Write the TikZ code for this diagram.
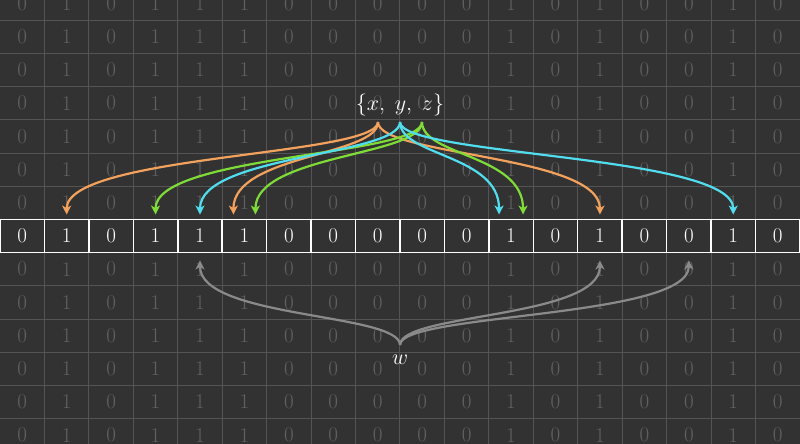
\RequirePackage{fix-cm}
\documentclass[tikz,border=0pt]{standalone}
\usetikzlibrary{arrows.meta}
\definecolor{bg}{HTML}{323232}
\definecolor{gridline}{HTML}{545454}
\definecolor{faint}{HTML}{616161}
\definecolor{hashx}{HTML}{F2A25C}
\definecolor{hashy}{HTML}{52DDEE}
\definecolor{hashz}{HTML}{7EDB38}
\definecolor{query}{HTML}{8A8A8A}
\begin{document}
\begin{tikzpicture}[x=1pt,y=1pt,
    bitcell/.style={minimum width=44.44pt,minimum height=33.4pt,inner sep=0pt,font=\fontsize{21}{21}\selectfont},
    hash/.style={line width=2.2pt,-{Stealth[length=9pt,width=9pt,inset=2.5pt]}},
    label/.style={text=white,font=\fontsize{22}{22}\selectfont}]
  \fill[bg] (0,0) rectangle (800,444);
  \useasboundingbox (0,0) rectangle (800,444);
  \foreach \i in {1,...,17} \draw[gridline,line width=1pt] (44.44*\i,0) -- (44.44*\i,444);
  \foreach \r in {-6,...,7} \draw[gridline,line width=1pt] (0,191.3+33.2*\r) -- (800,191.3+33.2*\r);
  \foreach \r in {-6,...,-1,1,2,...,7}
    \foreach \b [count=\i from 0] in {0,1,0,1,1,1,0,0,0,0,0,1,0,1,0,0,1,0}
      \node[bitcell,text=faint] at (22.22+44.44*\i,208+33.2*\r) {\b};
  \foreach \b [count=\i from 0] in {0,1,0,1,1,1,0,0,0,0,0,1,0,1,0,0,1,0}
    \node[bitcell,draw=white,fill=bg,line width=1.5pt,text=white] (b\i) at (22.22+44.44*\i,208) {\b};
  \node[label] (xyz) at (400,339) {$\{x,\;y,\;z\}$};
  \node[label] (w) at (400,84) {$w$};
  \coordinate (hx) at (378,322);
  \coordinate (hy) at (400,322);
  \coordinate (hz) at (422,322);
  \coordinate (wc) at (400,99);
  \draw[hash,query] (wc) .. controls +(0,32) and +(0,-58) .. ([yshift=-7pt]b4.south);
  \draw[hash,query] (wc) .. controls +(0,32) and +(0,-58) .. ([yshift=-7pt]b13.south);
  \draw[hash,query] (wc) .. controls +(0,32) and +(0,-58) .. ([yshift=-7pt]b15.south);
  \draw[hash,hashx] (hx) .. controls +(0,-34) and +(0,60) .. ([yshift=4pt]b1.north);
  \draw[hash,hashx] (hx) .. controls +(0,-34) and +(0,60) .. ([xshift=-11pt,yshift=4pt]b5.north);
  \draw[hash,hashx] (hx) .. controls +(0,-34) and +(0,60) .. ([yshift=4pt]b13.north);
  \draw[hash,hashz] (hz) .. controls +(0,-34) and +(0,60) .. ([yshift=4pt]b3.north);
  \draw[hash,hashz] (hz) .. controls +(0,-34) and +(0,60) .. ([xshift=11pt,yshift=4pt]b5.north);
  \draw[hash,hashz] (hz) .. controls +(0,-34) and +(0,60) .. ([xshift=12pt,yshift=4pt]b11.north);
  \draw[hash,hashy] (hy) .. controls +(0,-34) and +(0,60) .. ([yshift=4pt]b4.north);
  \draw[hash,hashy] (hy) .. controls +(0,-34) and +(0,60) .. ([xshift=-12pt,yshift=4pt]b11.north);
  \draw[hash,hashy] (hy) .. controls +(0,-34) and +(0,60) .. ([yshift=4pt]b16.north);
\end{tikzpicture}
\end{document}
